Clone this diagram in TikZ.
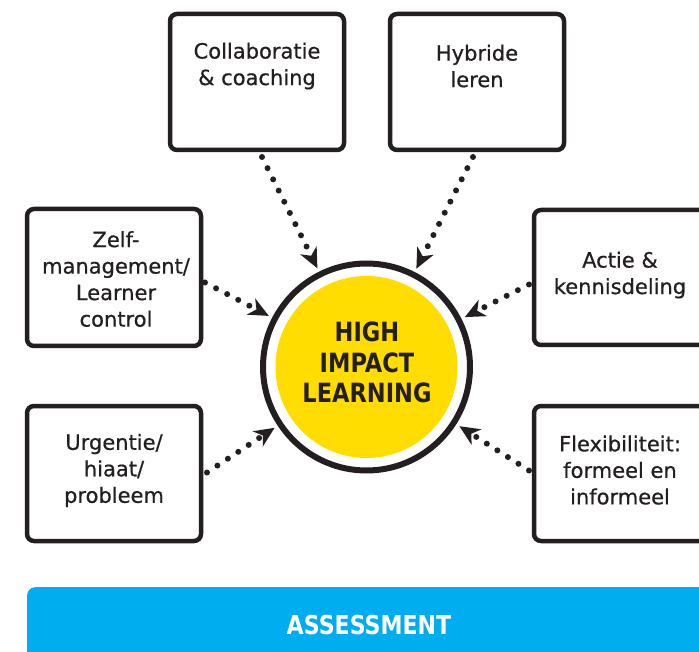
\documentclass[tikz,border=0pt]{standalone}
\usepackage{fontspec}
\setmainfont{DejaVu Sans}[FakeBold=0.6]
\newfontfamily\stencil{DejaVu Sans}[FakeStretch=0.85]
\usetikzlibrary{arrows.meta}
\definecolor{ink}{HTML}{231F20}
\definecolor{hiyellow}{HTML}{FFDD00}
\definecolor{hiblue}{HTML}{00AEEF}
\tikzset{
  box/.style={draw=ink, line width=4.5pt, rounded corners=7pt, minimum width=174pt,
    minimum height=136pt, inner sep=0pt, outer sep=2pt},
  boxtext/.style={text=ink, align=center, font=\fontsize{21}{26.5}\selectfont, inner sep=0pt},
  dotarrow/.style={draw=ink, line width=6pt, line cap=round, dash pattern=on 0pt off 12.5pt,
    -{Stealth[length=20pt,width=18pt,inset=6pt]}},
  bigtext/.style={text=ink, align=center, font=\stencil\bfseries\fontsize{26.5}{30.5}\selectfont, inner sep=0pt},
}
\begin{document}
\begin{tikzpicture}[x=1pt,y=-1pt]
\useasboundingbox (0,0) rectangle (699,652);
\clip (0,0) rectangle (699,652);
\fill[white] (0,0) rectangle (699,652);

% boxes
\node[box] (c1) at (257,82) {};
\node[box] (c2) at (477,82) {};
\node[box, minimum height=137pt] (zm) at (114,277.5) {};
\node[box, minimum height=135pt] (ur) at (114,473.5) {};
\node[box, minimum height=135pt] (ac) at (621,277.5) {};
\node[box, minimum height=135pt] (fl) at (621,473.5) {};

\node[boxtext] (c1t) at (257,66) {Collaboratie\\\& coaching};
\node[boxtext] (c2t) at (477,66) {Hybride\\leren};
\node[boxtext] (zmt) at (116,279) {Zelf-\\management/\\Learner\\control};
\node[boxtext] (urt) at (114,470.5) {Urgentie/\\hiaat/\\probleem};
\node[boxtext] (act) at (620,275) {Actie \&\\kennisdeling};
\node[boxtext] (flt) at (620,470) {Flexibiliteit:\\formeel en\\informeel};

% centre
\node[circle, minimum size=220pt, inner sep=0pt] (hil) at (366.5,367) {};
\fill[hiyellow] (hil.center) circle (91pt);
\draw[ink, line width=6pt] (hil.center) circle (103.5pt);
\node[bigtext] (hilt) at (367,362.5) {HIGH\\IMPACT\\LEARNING};

% arrows
\draw[dotarrow] ([xshift=5pt,yshift=-5pt]c1.south) -- (hil);
\draw[dotarrow] ([xshift=-4pt,yshift=-5pt]c2.south) -- (hil);
\draw[dotarrow] ([xshift=2pt,yshift=-5pt]zm.east) -- (hil);
\draw[dotarrow] ([xshift=4pt,yshift=1pt]ur.east) -- (hil);
\draw[dotarrow] ([xshift=-3pt,yshift=-7pt]ac.west) -- (hil);
\draw[dotarrow] ([xshift=-3pt,yshift=3pt]fl.west) -- (hil);

% assessment bar
\node[fill=hiblue, rounded corners=8pt, minimum width=720pt, minimum height=100pt,
  anchor=north west, inner sep=0pt] (assess) at (27,587) {};
\node[text=white, font=\stencil\bfseries\fontsize{26}{30}\selectfont, inner sep=0pt]
  (assesst) at (369,625.5) {ASSESSMENT};
\end{tikzpicture}
\end{document}
